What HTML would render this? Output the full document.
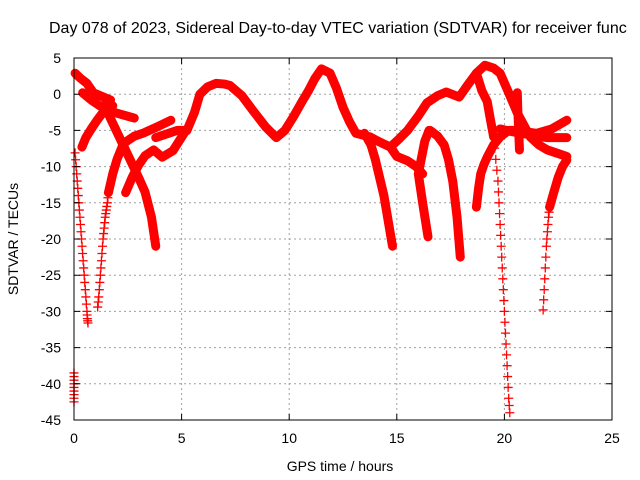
<!DOCTYPE html>
<html><head><meta charset="utf-8"><style>
body{margin:0;background:#fff}
svg{display:block;font-family:"Liberation Sans",sans-serif}
</style></head><body>
<svg id="c" width="640" height="480">
<text x="49" y="33" font-size="16" fill="#000">Day 078 of 2023, Sidereal Day-to-day VTEC variation (SDTVAR) for receiver func</text>
<text x="340" y="471" font-size="14" text-anchor="middle">GPS time / hours</text>
<text transform="translate(18,239) rotate(-90)" font-size="14" text-anchor="middle">SDTVAR / TECUs</text>
<g id="grid"></g><g id="marks"></g><g id="ticks"></g>
<rect x="74" y="58" width="538" height="362" fill="none" stroke="#000" stroke-width="1"/>
</svg>
<script>
const xTicks=[0,5,10,15,20,25];
const yTicks=[5,0,-5,-10,-15,-20,-25,-30,-35,-40,-45];
// dense tracks: hours and values
const denseHours=[
 [0.05,0.3,0.6,0.9,1.3,1.7],
 [0.4,0.8,1.2,1.6,2.2,2.8],
 [1.4,1.8,2.2,2.6,3.0,3.3,3.6,3.8],
 [0.37,0.55,0.8,1.05,1.35,1.8],
 [1.6,1.8,2.0,2.3,2.8,3.2,3.8,4.5],
 [2.4,2.7,3.0,3.3,3.7,4.1,4.6,5.2],
 [3.8,4.3,4.8,5.25,5.6,5.85,6.2,6.6,7.0,7.25,7.8,8.3,8.9,9.4,9.8,10.2,10.6,10.9,11.2,11.5,11.9,12.2,12.5,12.8,13.1,13.75,14.2,14.7,15.0,15.5,15.9,16.2],
 [14.7,15.1,15.5,16.0,16.4,16.9,17.3,17.9,18.3,18.7,19.1,19.5,19.8,20.2,20.6,21.2,21.6,22.0,22.5,22.9],
 [13.5,13.8,14.0,14.2,14.4,14.6,14.8],
 [16.5,16.3,16.2,16.1,16.0,16.2,16.45],
 [16.55,16.9,17.2,17.4,17.6,17.8,17.95],
 [18.7,18.8,18.9,19.05,19.2,19.5,19.8,20.2,20.6,21.0,21.5,22.2,22.9],
 [19.8,20.4,21.0,21.5,22.0,22.5,22.9],
 [22.1,22.3,22.5,22.7,22.9],
 [20.6,20.62,20.65,20.7],
 [18.7,18.95,19.2,19.35,19.5]
];
const denseValues=[
 [2.9,2.2,1.5,0.2,-0.3,-0.8],
 [0.2,-0.8,-1.6,-2.3,-2.8,-3.3],
 [-1.5,-4,-6.5,-9,-11.5,-13.5,-17,-21],
 [-7.3,-6,-4.8,-3.7,-2.5,-1.6],
 [-13.6,-11,-9,-6.8,-5.8,-5.4,-4.6,-3.6],
 [-13.6,-11.5,-9.8,-8.5,-7.7,-8.7,-7.8,-5],
 [-6,-5.5,-5,-5,-2.5,0,1,1.5,1.4,1.2,-0.2,-2.2,-4.5,-6,-5,-3.1,-1,0.5,2.2,3.5,2.9,0.8,-1.8,-3.8,-5.4,-5.9,-6.6,-7.3,-8.6,-9.2,-10,-11],
 [-7.3,-6.2,-5,-3,-1.2,-0.2,0.3,-0.4,1.3,2.9,4,3.6,2.9,0.2,-2.6,-5.9,-7,-7.7,-8.2,-8.6],
 [-5.4,-7,-9,-11.5,-14,-17.5,-21],
 [-5,-6.5,-8,-9.5,-11,-15,-19.7],
 [-5,-5.8,-7,-9,-12,-17,-22.5],
 [-15.6,-13,-11,-9.7,-8.7,-7,-5.9,-5,-5,-5.2,-5.4,-4.8,-3.6],
 [-4.8,-5.2,-5.5,-5.8,-6,-6,-6],
 [-15.6,-13.5,-11.5,-10,-9.1],
 [0.2,-2,-4,-7.7],
 [2.9,0.5,-1,-3.5,-5.9]
];
// sparse tails (individual markers)
const sparseHours=[
 [0.05,0.1,0.15,0.2,0.25,0.3,0.35,0.4,0.45,0.5,0.55,0.6,0.62,0.65],
 [1.1,1.15,1.2,1.25,1.3,1.35,1.4,1.45,1.5,1.55,1.6],
 [19.5,19.6,19.7,19.75,19.8,19.85,19.9,19.95,20.0,20.05,20.1,20.15,20.2,20.25],
 [21.8,21.85,21.9,21.95,22.0,22.05,22.1],
 [0.0,0.0,0.0,0.0,0.0]
];
const sparseValues=[
 [-8.1,-10,-12,-14,-16,-18,-20,-22,-24,-26,-28,-30,-31,-31.6],
 [-29.4,-28,-26,-24,-22,-20,-18.5,-17,-16,-15,-13.6],
 [-5.9,-9,-12,-15,-18,-21,-24,-27,-30,-33,-36,-39,-42,-44],
 [-29.8,-27,-24,-21,-19,-17,-15.6],
 [-38.5,-39.5,-40.5,-41.5,-42.5]
];
const NS='http://www.w3.org/2000/svg';
const X=h=>74+h*538/25, Y=v=>58+(5-v)*362/50;
const grid=document.getElementById('grid'),marks=document.getElementById('marks'),ticks=document.getElementById('ticks');
function mk(t,a,p){const e=document.createElementNS(NS,t);for(const k in a)e.setAttribute(k,a[k]);p.appendChild(e);return e;}
xTicks.forEach(t=>{const x=X(t);
 if(t>0&&t<25){const g=mk('line',{x1:x,y1:58,x2:x,y2:420,stroke:'#a0a0a0','stroke-dasharray':'2,3'},grid);
 
 }
 const tk=mk('path',{d:`M${x},420v-6M${x},58v6`,stroke:'#000'},ticks);
 
 
 const l=mk('text',{x:x,y:443,'font-size':14,'text-anchor':'middle'},ticks);l.textContent=t;
 
 
});
yTicks.forEach(t=>{const y=Y(t);
 if(t<5&&t>-45){const g=mk('line',{x1:74,y1:y,x2:612,y2:y,stroke:'#a0a0a0','stroke-dasharray':'2,3'},grid);
 
 }
 const tk=mk('path',{d:`M74,${y}h6M612,${y}h-6`,stroke:'#000'},ticks);
 
 
 const l=mk('text',{x:61,y:y+5,'font-size':14,'text-anchor':'end'},ticks);l.textContent=t;
 
 
});
function plus(x,y){const p=mk('path',{d:`M${x-4.5},${y}h9M${x},${y-4.5}v9`,stroke:'#f00','stroke-width':1.3},marks);
 
 }
denseHours.forEach((hs,i)=>{const vs=denseValues[i];
 const pts=hs.map((h,j)=>X(h)+','+Y(vs[j])).join(' ');
 const pl=mk('polyline',{points:pts,fill:'none',stroke:'#f00','stroke-width':9,'stroke-linejoin':'round','stroke-linecap':'round'},marks);
 
 
});
sparseHours.forEach((hs,i)=>{const vs=sparseValues[i];
 for(let j=0;j<hs.length;j++){plus(X(hs[j]),Y(vs[j]));
  if(j<hs.length-1){plus((X(hs[j])+X(hs[j+1]))/2,(Y(vs[j])+Y(vs[j+1]))/2);}}
});
</script>
</body></html>
